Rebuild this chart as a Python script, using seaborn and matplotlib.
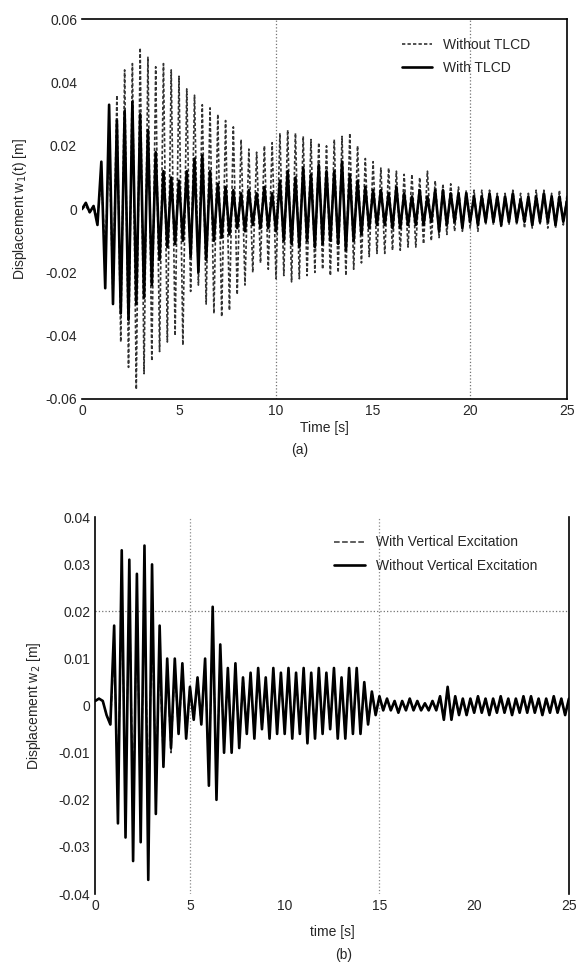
import numpy as np
import pandas as pd
import matplotlib
matplotlib.use("Agg")
import matplotlib.pyplot as plt
import seaborn as sns

# sampling step of the peak lists below [s]
DT = 0.2

# (a) displacement w1(t), successive extremes read every 0.2 s
w1_with_tlcd = [
    0.0, 0.002, -0.001, 0.001, -0.005,
    0.015, -0.025, 0.033, -0.030, 0.028,
    -0.033, 0.031, -0.035, 0.034, -0.030,
    0.030, -0.028, 0.025, -0.024, 0.018,
    -0.016, 0.012, -0.012, 0.010, -0.011,
    0.009, -0.010, 0.012, -0.015, 0.016,
    -0.020, 0.017, -0.016, 0.012, -0.010,
    0.008, -0.009, 0.007, -0.008, 0.006,
    -0.006, 0.005, -0.007, 0.006, -0.005,
    0.005, -0.006, 0.007, -0.006, 0.005,
    -0.007, 0.009, -0.010, 0.012, -0.011,
    0.010, -0.012, 0.013, -0.010, 0.011,
    -0.012, 0.014, -0.011, 0.012, -0.010,
    0.012, -0.011, 0.015, -0.013, 0.011,
    -0.010, 0.009, -0.008, 0.007, -0.006,
    0.006, -0.005, 0.006, -0.005, 0.005,
    -0.006, 0.007, -0.006, 0.005, -0.005,
    0.004, -0.005, 0.006, -0.005, 0.004,
    -0.004, 0.006, -0.007, 0.006, -0.005,
    0.005, -0.004, 0.005, -0.006, 0.005,
    -0.004, 0.004, -0.005, 0.004, -0.004,
    0.005, -0.004, 0.004, -0.005, 0.004,
    -0.004, 0.005, -0.004, 0.003, -0.004,
    0.004, -0.005, 0.004, -0.004, 0.005,
    -0.004, 0.004, -0.005, 0.004, -0.004,
    0.003,
]
w1_without_tlcd = [
    0.0, 0.001, -0.001, 0.001, -0.003,
    0.010, -0.015, 0.022, -0.028, 0.036,
    -0.042, 0.044, -0.050, 0.046, -0.057,
    0.051, -0.052, 0.048, -0.048, 0.045,
    -0.045, 0.046, -0.042, 0.044, -0.040,
    0.042, -0.043, 0.038, -0.026, 0.036,
    -0.024, 0.033, -0.030, 0.032, -0.033,
    0.030, -0.034, 0.028, -0.032, 0.026,
    -0.027, 0.022, -0.024, 0.019, -0.020,
    0.018, -0.017, 0.020, -0.019, 0.021,
    -0.022, 0.024, -0.021, 0.025, -0.023,
    0.024, -0.022, 0.023, -0.021, 0.022,
    -0.020, 0.021, -0.019, 0.020, -0.021,
    0.022, -0.020, 0.023, -0.021, 0.024,
    -0.019, 0.020, -0.017, 0.016, -0.015,
    0.015, -0.014, 0.013, -0.014, 0.013,
    -0.013, 0.012, -0.013, 0.011, -0.012,
    0.011, -0.012, 0.010, -0.011, 0.012,
    -0.010, 0.009, -0.009, 0.008, -0.008,
    0.008, -0.007, 0.007, -0.007, 0.006,
    -0.006, 0.006, -0.007, 0.006, -0.005,
    0.006, -0.005, 0.005, -0.006, 0.005,
    -0.005, 0.006, -0.005, 0.005, -0.006,
    0.005, -0.006, 0.006, -0.005, 0.006,
    -0.006, 0.005, -0.006, 0.006, -0.005,
    0.005,
]

# (b) displacement w2, successive extremes read every 0.2 s
w2_without_vert = [
    0.001, 0.0015, 0.001, -0.002, -0.004,
    0.017, -0.025, 0.033, -0.028, 0.031,
    -0.033, 0.028, -0.029, 0.034, -0.037,
    0.030, -0.023, 0.017, -0.013, 0.010,
    -0.009, 0.010, -0.006, 0.009, -0.007,
    0.004, -0.003, 0.006, -0.004, 0.010,
    -0.017, 0.021, -0.020, 0.013, -0.010,
    0.008, -0.010, 0.009, -0.009, 0.006,
    -0.006, 0.007, -0.007, 0.008, -0.005,
    0.006, -0.007, 0.008, -0.006, 0.007,
    -0.006, 0.008, -0.007, 0.007, -0.006,
    0.008, -0.008, 0.007, -0.007, 0.008,
    -0.006, 0.007, -0.005, 0.008, -0.007,
    0.006, -0.007, 0.008, -0.006, 0.008,
    -0.006, 0.005, -0.004, 0.003, -0.002,
    0.002, -0.001, 0.0015, -0.001, 0.001,
    -0.0015, 0.001, -0.001, 0.0015, -0.001,
    0.001, -0.001, 0.0005, -0.001, 0.001,
    -0.001, 0.002, -0.003, 0.004, -0.003,
    0.002, -0.002, 0.0015, -0.002, 0.0015,
    -0.0015, 0.002, -0.0015, 0.0015, -0.002,
    0.0015, -0.0015, 0.002, -0.0015, 0.0015,
    -0.002, 0.0015, -0.0015, 0.002, -0.0015,
    0.002, -0.0015, 0.0015, -0.002, 0.0015,
    -0.0015, 0.002, -0.0015, 0.0015, -0.002,
    0.0015,
]
w2_with_vert = [
    0.001, 0.0015, 0.001, -0.002, -0.004,
    0.012, -0.018, 0.024, -0.020, 0.025,
    -0.022, 0.020, -0.021, 0.022, -0.020,
    0.018, -0.015, 0.010, -0.012, 0.009,
    -0.010, 0.008, -0.006, 0.007, -0.006,
    0.004, -0.003, 0.005, -0.004, 0.009,
    -0.015, 0.018, -0.017, 0.011, -0.009,
    0.007, -0.009, 0.008, -0.008, 0.006,
    -0.005, 0.006, -0.006, 0.007, -0.005,
    0.005, -0.006, 0.007, -0.005, 0.006,
    -0.005, 0.007, -0.006, 0.006, -0.005,
    0.007, -0.007, 0.006, -0.006, 0.007,
    -0.005, 0.006, -0.005, 0.007, -0.006,
    0.005, -0.006, 0.007, -0.005, 0.007,
    -0.005, 0.004, -0.004, 0.003, -0.002,
    0.002, -0.001, 0.0015, -0.001, 0.001,
    -0.0015, 0.001, -0.001, 0.0015, -0.001,
    0.001, -0.001, 0.0005, -0.001, 0.001,
    -0.001, 0.002, -0.003, 0.0035, -0.003,
    0.002, -0.002, 0.0015, -0.002, 0.0015,
    -0.0015, 0.002, -0.0015, 0.0015, -0.002,
    0.0015, -0.0015, 0.002, -0.0015, 0.0015,
    -0.002, 0.0015, -0.0015, 0.002, -0.0015,
    0.002, -0.0015, 0.0015, -0.002, 0.0015,
    -0.0015, 0.002, -0.0015, 0.0015, -0.002,
    0.0015,
]

x_ticks = [0, 5, 10, 15, 20, 25]
y_ticks_a = [-0.06, -0.04, -0.02, 0, 0.02, 0.04, 0.06]
y_ticks_b = [-0.04, -0.03, -0.02, -0.01, 0, 0.01, 0.02, 0.03, 0.04]

sns.set_style("white")
plt.rcParams['font.family'] = ['Liberation Sans', 'DejaVu Sans']
plt.rcParams['axes.unicode_minus'] = False
plt.rcParams['xtick.direction'] = 'in'
plt.rcParams['ytick.direction'] = 'in'

fig = plt.figure(figsize=(5.77, 9.66), dpi=100)
ax1 = fig.add_axes([0.142, 0.587, 0.841, 0.393])
ax2 = fig.add_axes([0.165, 0.0745, 0.821, 0.390])

t = np.round(np.arange(len(w1_with_tlcd)) * DT, 2)

# --- (a)
df_a = pd.DataFrame({'t': t, 'without': w1_without_tlcd, 'with': w1_with_tlcd})
sns.lineplot(data=df_a, x='t', y='without', ax=ax1, color='0.2', linewidth=1.2,
             linestyle=(0, (2.0, 1.3)), label='Without TLCD')
sns.lineplot(data=df_a, x='t', y='with', ax=ax1, color='black', linewidth=1.9,
             label='With TLCD')
for xv in [10, 20]:
    ax1.axvline(xv, color='0.45', linestyle=':', linewidth=0.9, zorder=0)
ax1.set_xlim(0, 25)
ax1.set_ylim(-0.06, 0.06)
ax1.set_xticks(x_ticks)
ax1.set_yticks(y_ticks_a)
ax1.set_yticklabels(['-0.06', '-0.04', '-0.02', '0', '0.02', '0.04', '0.06'])
ax1.set_xlabel('Time [s]', fontsize=10, labelpad=2)
ax1.set_ylabel('Displacement w$_1$(t) [m]', fontsize=10, labelpad=12)
ax1.tick_params(labelsize=10, length=3, color='black')
ax1.spines['left'].set_visible(False)
for s in ['top', 'right', 'bottom']:
    ax1.spines[s].set_color('black')
    ax1.spines[s].set_linewidth(1.2)
ax1.legend(loc='upper right', bbox_to_anchor=(0.95, 0.985), frameon=False,
           fontsize=10, handlelength=2.2, labelspacing=0.7)

# --- (b)
df_b = pd.DataFrame({'t': t, 'with': w2_with_vert, 'without': w2_without_vert})
sns.lineplot(data=df_b, x='t', y='with', ax=ax2, color='0.2', linewidth=1.1,
             linestyle='--', label='With Vertical Excitation')
sns.lineplot(data=df_b, x='t', y='without', ax=ax2, color='black', linewidth=1.9,
             label='Without Vertical Excitation')
for xv in [5, 15]:
    ax2.axvline(xv, color='0.55', linestyle=':', linewidth=0.9, zorder=0)
ax2.axhline(0.02, color='0.45', linestyle=':', linewidth=0.9, zorder=0)
ax2.set_xlim(0, 25)
ax2.set_ylim(-0.04, 0.04)
ax2.set_xticks(x_ticks)
ax2.set_yticks(y_ticks_b)
ax2.set_yticklabels(['-0.04', '-0.03', '-0.02', '-0.01', '0',
                     '0.01', '0.02', '0.03', '0.04'])
ax2.set_xlabel('time [s]', fontsize=10, labelpad=9)
ax2.set_ylabel('Displacement w$_2$ [m]', fontsize=10, labelpad=11)
ax2.tick_params(labelsize=10, length=3, color='black')
ax2.spines['top'].set_visible(False)
ax2.spines['bottom'].set_visible(False)
for s in ['left', 'right']:
    ax2.spines[s].set_color('black')
    ax2.spines[s].set_linewidth(1.2)
ax2.legend(loc='upper right', bbox_to_anchor=(0.96, 0.985), frameon=False,
           fontsize=10, handlelength=2.2, labelspacing=0.7)

fig.text(0.52, 0.534, '(a)', ha='center', va='center', fontsize=10)
fig.text(0.595, 0.011, '(b)', ha='center', va='center', fontsize=10)

fig.savefig('out.png', dpi=100)
